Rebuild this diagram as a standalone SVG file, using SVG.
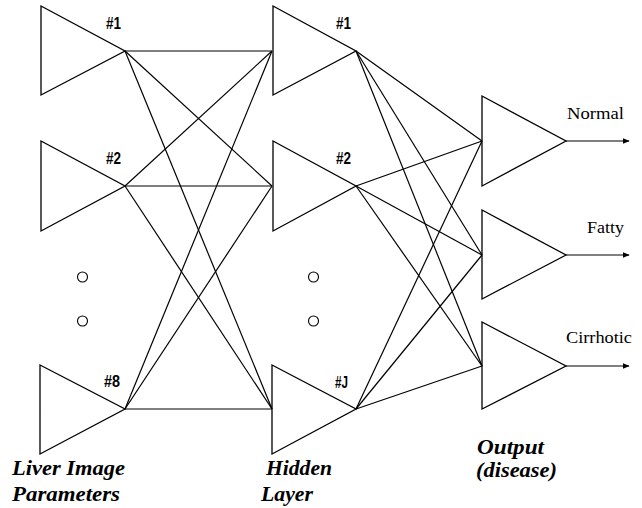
<svg xmlns="http://www.w3.org/2000/svg" width="642" height="508" viewBox="0 0 642 508">
  <style>
    .unit { fill: none; stroke: #000; stroke-width: 1.3; stroke-linejoin: miter; }
    .link { stroke: #000; stroke-width: 1.2; fill: none; }
    .dot { fill: none; stroke: #000; stroke-width: 1.1; }
    .idx { font-family: "Liberation Sans", Arial, sans-serif; font-weight: bold; font-size: 17px; fill: #000; }
    .out { font-family: "Liberation Serif", "Times New Roman", serif; font-size: 17px; fill: #000; }
    .cap { font-family: "Liberation Serif", "Times New Roman", serif; font-weight: bold; font-style: italic; font-size: 20px; fill: #000; }
  </style>
  <defs>
    <marker id="arrow" viewBox="0 0 10 10" refX="9" refY="5" markerWidth="7" markerHeight="7" markerUnits="userSpaceOnUse" orient="auto">
      <path d="M0,1 L10,5 L0,9 Z" fill="#000"/>
    </marker>
  </defs>

  <!-- connections -->
  <g id="connectors">
    <!-- input layer to hidden layer -->
    <line class="link" x1="125" y1="51" x2="272" y2="51"/>
    <line class="link" x1="125" y1="51" x2="272" y2="186"/>
    <line class="link" x1="125" y1="51" x2="272" y2="409"/>
    <line class="link" x1="125" y1="186" x2="272" y2="51"/>
    <line class="link" x1="125" y1="186" x2="272" y2="186"/>
    <line class="link" x1="125" y1="186" x2="272" y2="409"/>
    <line class="link" x1="125" y1="409" x2="272" y2="51"/>
    <line class="link" x1="125" y1="409" x2="272" y2="186"/>
    <line class="link" x1="125" y1="409" x2="272" y2="409"/>
    <!-- hidden layer to outputs -->
    <line class="link" x1="356" y1="51" x2="482" y2="141"/>
    <line class="link" x1="356" y1="51" x2="482" y2="255"/>
    <line class="link" x1="356" y1="51" x2="482" y2="366"/>
    <line class="link" x1="356" y1="186" x2="482" y2="141"/>
    <line class="link" x1="356" y1="186" x2="482" y2="255"/>
    <line class="link" x1="356" y1="186" x2="482" y2="366"/>
    <line class="link" x1="356" y1="409" x2="482" y2="141"/>
    <line class="link" x1="356" y1="409" x2="482" y2="255"/>
    <line class="link" x1="356" y1="409" x2="482" y2="366"/>
    <!-- output arrows -->
    <line class="link" x1="566" y1="141" x2="629" y2="141" marker-end="url(#arrow)"/>
    <line class="link" x1="566" y1="255" x2="629" y2="255" marker-end="url(#arrow)"/>
    <line class="link" x1="566" y1="366" x2="629" y2="366" marker-end="url(#arrow)"/>
  </g>

  <!-- input units -->
  <g id="in1">
    <polygon class="unit" points="41,6 125,51 41,95"/>
    <text class="idx" x="106" y="29" textLength="15" lengthAdjust="spacingAndGlyphs">#1</text>
  </g>
  <g id="in2">
    <polygon class="unit" points="41,141 125,186 41,231"/>
    <text class="idx" x="106" y="164" textLength="15" lengthAdjust="spacingAndGlyphs">#2</text>
  </g>
  <g id="in-ellipsis">
    <circle class="dot" cx="82.5" cy="277" r="5"/>
    <circle class="dot" cx="82.5" cy="321" r="5"/>
  </g>
  <g id="in8">
    <polygon class="unit" points="40,365 125,409 40,454"/>
    <text class="idx" x="104" y="387" textLength="16" lengthAdjust="spacingAndGlyphs">#8</text>
  </g>

  <!-- hidden units -->
  <g id="hid1">
    <polygon class="unit" points="273,6 356,51 273,95"/>
    <text class="idx" x="336" y="29" textLength="15" lengthAdjust="spacingAndGlyphs">#1</text>
  </g>
  <g id="hid2">
    <polygon class="unit" points="273,141 356,186 273,231"/>
    <text class="idx" x="336" y="164" textLength="15" lengthAdjust="spacingAndGlyphs">#2</text>
  </g>
  <g id="hid-ellipsis">
    <circle class="dot" cx="313.5" cy="277" r="5"/>
    <circle class="dot" cx="313.5" cy="321" r="5"/>
  </g>
  <g id="hidJ">
    <polygon class="unit" points="272,365 356,409 272,454"/>
    <text class="idx" x="335" y="388" textLength="13" lengthAdjust="spacingAndGlyphs">#J</text>
  </g>

  <!-- output units -->
  <g id="out-normal">
    <polygon class="unit" points="482,96 566,141 482,186"/>
    <text class="out" x="567" y="119" textLength="57" lengthAdjust="spacingAndGlyphs">Normal</text>
  </g>
  <g id="out-fatty">
    <polygon class="unit" points="482,210 566,255 482,299"/>
    <text class="out" x="587" y="233" textLength="37" lengthAdjust="spacingAndGlyphs">Fatty</text>
  </g>
  <g id="out-cirrhotic">
    <polygon class="unit" points="482,322 566,366 482,409"/>
    <text class="out" x="566" y="343" textLength="66" lengthAdjust="spacingAndGlyphs">Cirrhotic</text>
  </g>

  <!-- layer captions -->
  <g id="captions">
    <text class="cap" x="12" y="475" textLength="113" lengthAdjust="spacingAndGlyphs">Liver Image</text>
    <text class="cap" x="12" y="501" textLength="108" lengthAdjust="spacingAndGlyphs">Parameters</text>
    <text class="cap" x="266" y="475" textLength="66" lengthAdjust="spacingAndGlyphs">Hidden</text>
    <text class="cap" x="261" y="501" textLength="52" lengthAdjust="spacingAndGlyphs">Layer</text>
    <text class="cap" x="477" y="454" textLength="67" lengthAdjust="spacingAndGlyphs">Output</text>
    <text class="cap" x="476" y="477" textLength="81" lengthAdjust="spacingAndGlyphs">(disease)</text>
  </g>
</svg>
